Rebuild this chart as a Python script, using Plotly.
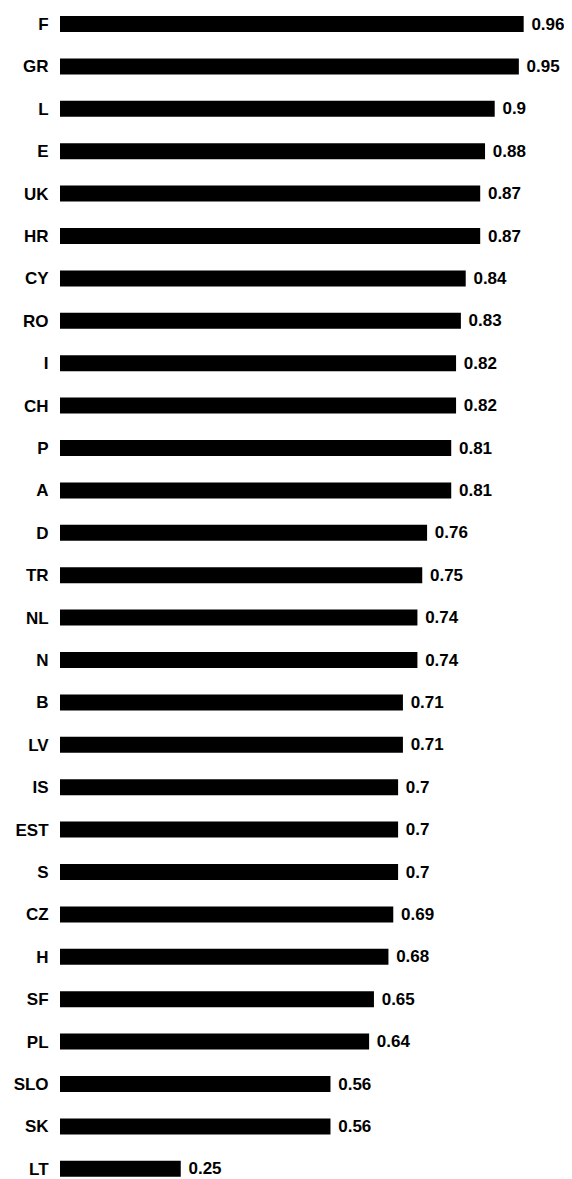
import plotly.graph_objects as go

countries = ["F", "GR", "L", "E", "UK", "HR", "CY", "RO", "I", "CH", "P", "A", "D", "TR",
             "NL", "N", "B", "LV", "IS", "EST", "S", "CZ", "H", "SF", "PL", "SLO", "SK", "LT"]
values = [0.96, 0.95, 0.9, 0.88, 0.87, 0.87, 0.84, 0.83, 0.82, 0.82, 0.81, 0.81, 0.76, 0.75,
          0.74, 0.74, 0.71, 0.71, 0.7, 0.7, 0.7, 0.69, 0.68, 0.65, 0.64, 0.56, 0.56, 0.25]
labels = [str(v) for v in values]

# page body has an 8px default margin, so the figure is offset by 8px
OFF = 8
W, H = 572 - OFF, 1179 - OFF
left = 60 - OFF
px_per_unit = 483.0
row = 42.4
first_center = 24 - OFF

FONT = "Liberation Sans, Arial, sans-serif"

fig = go.Figure(go.Bar(
    x=values, y=countries, orientation="h",
    marker=dict(color="black", line=dict(width=0)),
    text=labels, texttemplate="\u00a0%{text}", textposition="outside", cliponaxis=False,
    textfont=dict(family=FONT, size=17, color="black", weight="bold"),
    width=16 / row,
))

top = -first_center / row
bottom = (H - first_center) / row
fig.update_layout(
    width=W, height=H,
    margin=dict(l=left, r=0, t=0, b=0, autoexpand=False),
    plot_bgcolor="white", paper_bgcolor="white",
    showlegend=False,
    xaxis=dict(range=[0, (W - left) / px_per_unit], visible=False, fixedrange=True,
               automargin=False),
    yaxis=dict(range=[bottom, top], type="category", showgrid=False, zeroline=False,
               showline=False, ticks="outside", ticklen=7, tickcolor="rgba(0,0,0,0)",
               automargin=False,
               tickfont=dict(family=FONT, size=17, color="black", weight="bold")),
    uniformtext=dict(minsize=17, mode="show"),
)
fig.write_html("out.html")
